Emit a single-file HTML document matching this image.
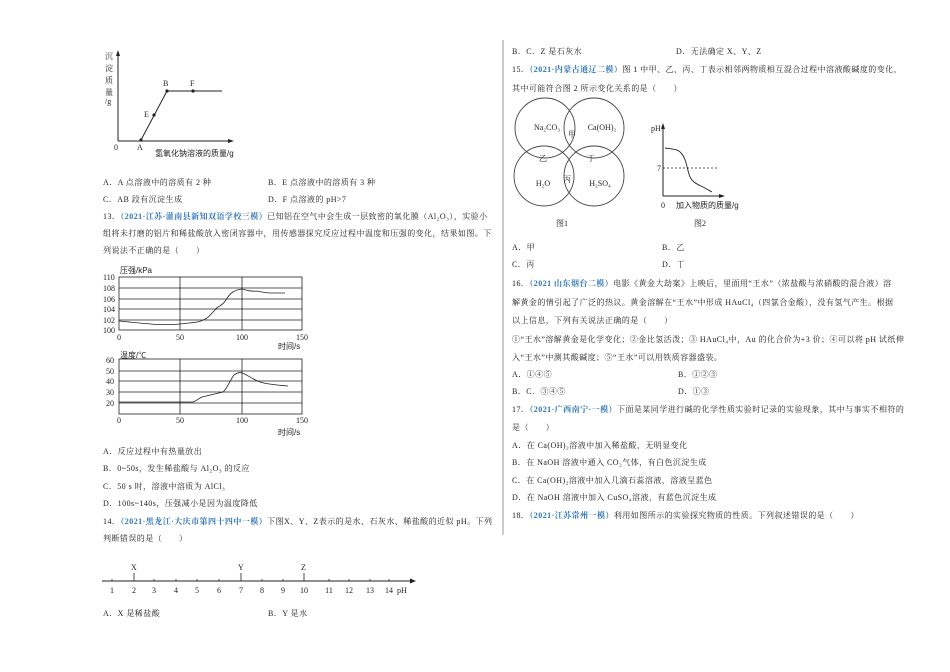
<!DOCTYPE html>
<html><head><meta charset="utf-8"><style>
html,body{margin:0;padding:0;background:#fff;}
svg{display:block;}
text{font-family:"Liberation Serif","Noto Serif CJK SC","Noto Sans CJK SC",serif;font-size:8px;fill:#222;}
.t{letter-spacing:0.45px;}
.b{fill:#2e74b5;font-weight:bold;}
.s{font-family:"Liberation Sans","Noto Sans CJK SC",sans-serif;}
</style></head><body>
<svg width="950" height="672" viewBox="0 0 950 672" xmlns="http://www.w3.org/2000/svg">
<line x1="503" y1="40" x2="503" y2="535" stroke="#999" stroke-width="1"/>

<g stroke="#222" stroke-width="1" fill="none">
<line x1="118" y1="141" x2="118" y2="55"/>
<line x1="118" y1="141" x2="230" y2="141"/>
<polyline points="141,140 167,91 222,91"/>
</g>
<polygon points="118,50 116,56 120,56" fill="#222"/>
<polygon points="234,141 228,139 228,143" fill="#222"/>
<circle cx="141" cy="140" r="1.6" fill="#222"/><circle cx="154" cy="115" r="1.6" fill="#222"/>
<circle cx="167" cy="91" r="1.6" fill="#222"/><circle cx="193" cy="91" r="1.6" fill="#222"/>
<text x="105" y="59">沉</text><text x="105" y="71">淀</text><text x="105" y="83">质</text><text x="105" y="95">量</text><text x="105" y="104">/g</text>
<text x="114" y="150">0</text><text x="137" y="150">A</text><text x="144" y="117">E</text><text x="163" y="86">B</text><text x="190" y="86">F</text>
<text x="155" y="156" class="s">氢氧化钠溶液的质量/g</text>

<g class="t">
<text x="103" y="185">A．A 点溶液中的溶质有 2 种</text><text x="268" y="185">B．E 点溶液中的溶质有 3 种</text>
<text x="103" y="202">C．AB 段有沉淀生成</text><text x="268" y="202">D．F 点溶液的 pH&gt;7</text>
<text x="103" y="219">13．<tspan class="b">（2021·江苏·灌南县新知双语学校三模）</tspan>已知铝在空气中会生成一层致密的氧化膜（Al₂O₃），实验小</text>
<text x="103" y="236">组将未打磨的铝片和稀盐酸放入密闭容器中，用传感器探究反应过程中温度和压强的变化，结果如图。下</text>
<text x="103" y="253">列说法不正确的是（　　）</text>
</g>

<g stroke="#222" stroke-width="0.8" fill="none">
<rect x="119" y="277" width="183" height="53"/>
<line x1="119" y1="288" x2="302" y2="288"/><line x1="119" y1="299" x2="302" y2="299"/>
<line x1="119" y1="309" x2="302" y2="309"/><line x1="119" y1="320" x2="302" y2="320"/>
<line x1="180" y1="277" x2="180" y2="330"/><line x1="242" y1="277" x2="242" y2="330"/>
<path d="M119,321 C140,323 160,326 180,324 S200,322 207,318 C212,314 215,309 218,307 C222,305 224,303 226,300 C230,293 234,290 242,289 C247,290 250,292 257,291 C262,292 264,293 270,293 L285,293"/>
</g>
<text x="120" y="273" class="s">压强/kPa</text>
<text x="103" y="280">110</text><text x="103" y="291">108</text><text x="103" y="302">106</text><text x="103" y="312">104</text><text x="103" y="323">102</text><text x="103" y="333">100</text>
<text x="117" y="340">0</text><text x="176" y="340">50</text><text x="236" y="340">100</text><text x="296" y="340">150</text>
<text x="278" y="349" class="s">时间/s</text>

<g stroke="#222" stroke-width="0.8" fill="none">
<rect x="119" y="359" width="183" height="55"/>
<line x1="119" y1="371" x2="302" y2="371"/><line x1="119" y1="381" x2="302" y2="381"/>
<line x1="119" y1="392" x2="302" y2="392"/><line x1="119" y1="403" x2="302" y2="403"/>
<line x1="180" y1="359" x2="180" y2="414"/><line x1="242" y1="359" x2="242" y2="414"/>
<path d="M119,402 L193,402 C196,401 198,399 202,397 L223,392 C227,389 230,380 234,375 C237,373 240,372 242,373 C246,374 252,379 260,382 C266,384 276,385 288,386"/>
</g>
<text x="120" y="358" class="s">温度/℃</text>
<text x="106" y="363">60</text><text x="106" y="374">50</text><text x="106" y="384">40</text><text x="106" y="395">30</text><text x="106" y="406">20</text>
<text x="117" y="423">0</text><text x="176" y="423">50</text><text x="236" y="423">100</text><text x="296" y="423">150</text>
<text x="278" y="435" class="s">时间/s</text>

<g class="t">
<text x="103" y="454">A．反应过程中有热量放出</text>
<text x="103" y="471">B．0~50s，发生稀盐酸与  Al₂O₃ 的反应</text>
<text x="103" y="489">C．50 s 时，溶液中溶质为  AlCl₃</text>
<text x="103" y="506">D．100s~140s，压强减小是因为温度降低</text>
<text x="103" y="524">14．<tspan class="b">（2021·黑龙江·大庆市第四十四中一模）</tspan>下图X、Y、Z表示的是水、石灰水、稀盐酸的近似 pH。下列</text>
<text x="103" y="541">判断错误的是（　　）</text>
</g>

<line x1="102" y1="581" x2="412" y2="581" stroke="#222" stroke-width="1"/>
<polygon points="416,581 410,578.5 410,583.5" fill="#222"/>
<g stroke="#222" stroke-width="0.8">
<line x1="112" y1="579" x2="112" y2="581"/><line x1="134" y1="573" x2="134" y2="581"/><line x1="154" y1="579" x2="154" y2="581"/>
<line x1="176" y1="579" x2="176" y2="581"/><line x1="197" y1="579" x2="197" y2="581"/><line x1="219" y1="579" x2="219" y2="581"/>
<line x1="241" y1="573" x2="241" y2="581"/><line x1="262" y1="579" x2="262" y2="581"/><line x1="283" y1="579" x2="283" y2="581"/>
<line x1="304" y1="573" x2="304" y2="581"/><line x1="329" y1="579" x2="329" y2="581"/><line x1="349" y1="579" x2="349" y2="581"/>
<line x1="370" y1="579" x2="370" y2="581"/><line x1="389" y1="579" x2="389" y2="581"/>
</g>
<text x="131" y="570">X</text><text x="238" y="570">Y</text><text x="301" y="570">Z</text>
<g text-anchor="middle">
<text x="112" y="593">1</text><text x="134" y="593">2</text><text x="154" y="593">3</text><text x="176" y="593">4</text><text x="197" y="593">5</text>
<text x="219" y="593">6</text><text x="241" y="593">7</text><text x="262" y="593">8</text><text x="283" y="593">9</text><text x="304" y="593">10</text>
<text x="329" y="593">11</text><text x="349" y="593">12</text><text x="370" y="593">13</text><text x="389" y="593">14</text>
</g>
<text x="397" y="593">pH</text>
<g class="t">
<text x="103" y="616">A．X 是稀盐酸</text><text x="268" y="616">B．Y 是水</text>

<text x="512" y="54">B．C．Z 是石灰水</text><text x="676" y="54">D．无法确定 X、Y、Z</text>
<text x="512" y="72">15．<tspan class="b">（2021·内蒙古通辽二模）</tspan>图 1 中甲、乙、丙、丁表示相邻两物质相互混合过程中溶液酸碱度的变化，</text>
<text x="512" y="91">其中可能符合图 2 所示变化关系的是（　　）</text>
</g>

<g stroke="#444" stroke-width="0.9" fill="none">
<circle cx="545" cy="128" r="30"/><circle cx="594" cy="128" r="30"/>
<circle cx="544" cy="176" r="30"/><circle cx="594" cy="176" r="30"/>
</g>
<g text-anchor="middle">
<text x="547" y="130">Na₂CO₃</text><text x="602" y="130">Ca(OH)₂</text><text x="572" y="137">甲</text>
<text x="543" y="161">乙</text><text x="591" y="161">丁</text>
<text x="543" y="186">H₂O</text><text x="567" y="182">丙</text><text x="600" y="186">H₂SO₄</text>
<text x="562" y="226">图1</text><text x="700" y="226">图2</text>
</g>
<g stroke="#222" stroke-width="1" fill="none">
<line x1="663" y1="196" x2="663" y2="127"/><line x1="663" y1="196" x2="720" y2="196"/>
<line x1="663" y1="168" x2="717" y2="168" stroke-dasharray="2,2" stroke-width="0.8"/>
<path d="M665,148 C672,149 678,149 681,153 C686,158 687,168 689,174 C691,182 697,184 703,187 C707,189 710,191 712,192" stroke-width="0.9"/>
</g>
<polygon points="663,123 661,129 665,129" fill="#222"/>
<polygon points="725,196 719,194 719,198" fill="#222"/>
<text x="651" y="131">pH</text><text x="657" y="171">7</text><text x="661" y="208">0</text>
<text x="676" y="208" class="s">加入物质的质量/g</text>

<g class="t">
<text x="512" y="250">A．甲</text><text x="662" y="250">B．乙</text>
<text x="512" y="267">C．丙</text><text x="662" y="267">D．丁</text>
<text x="512" y="286">16．<tspan class="b">（2021 山东烟台二模）</tspan>电影《黄金大劫案》上映后，里面用“王水”（浓盐酸与浓硝酸的混合液）溶</text>
<text x="512" y="305">解黄金的情引起了广泛的热议。黄金溶解在“王水”中形成 HAuCl₄（四氯合金酸），没有氢气产生。根据</text>
<text x="512" y="323">以上信息，下列有关说法正确的是（　　）</text>
<text x="512" y="342">①“王水”溶解黄金是化学变化；②金比氢活泼；③ HAuCl₄中，Au 的化合价为+3 价；④可以将 pH 试纸伸</text>
<text x="512" y="360">入“王水”中测其酸碱度；⑤“王水”可以用铁质容器盛装。</text>
<text x="512" y="377">A．①④⑤</text><text x="678" y="377">B．①②③</text>
<text x="512" y="394">B．C．③④⑤</text><text x="678" y="394">D．①③</text>
<text x="512" y="412">17．<tspan class="b">（2021·广西南宁·一模）</tspan>下面是某同学进行碱的化学性质实验时记录的实验现象，其中与事实不相符的</text>
<text x="512" y="430">是（　　）</text>
<text x="512" y="448">A．在 Ca(OH)₂溶液中加入稀盐酸，无明显变化</text>
<text x="512" y="465">B．在 NaOH 溶液中通入 CO₂气体，有白色沉淀生成</text>
<text x="512" y="483">C．在 Ca(OH)₂溶液中加入几滴石蕊溶液，溶液呈蓝色</text>
<text x="512" y="500">D．在 NaOH 溶液中加入 CuSO₄溶液，有蓝色沉淀生成</text>
<text x="512" y="518">18．<tspan class="b">（2021·江苏常州一模）</tspan>利用如图所示的实验探究物质的性质。下列叙述错误的是（　　）</text>
</g>
</svg>
</body></html>
